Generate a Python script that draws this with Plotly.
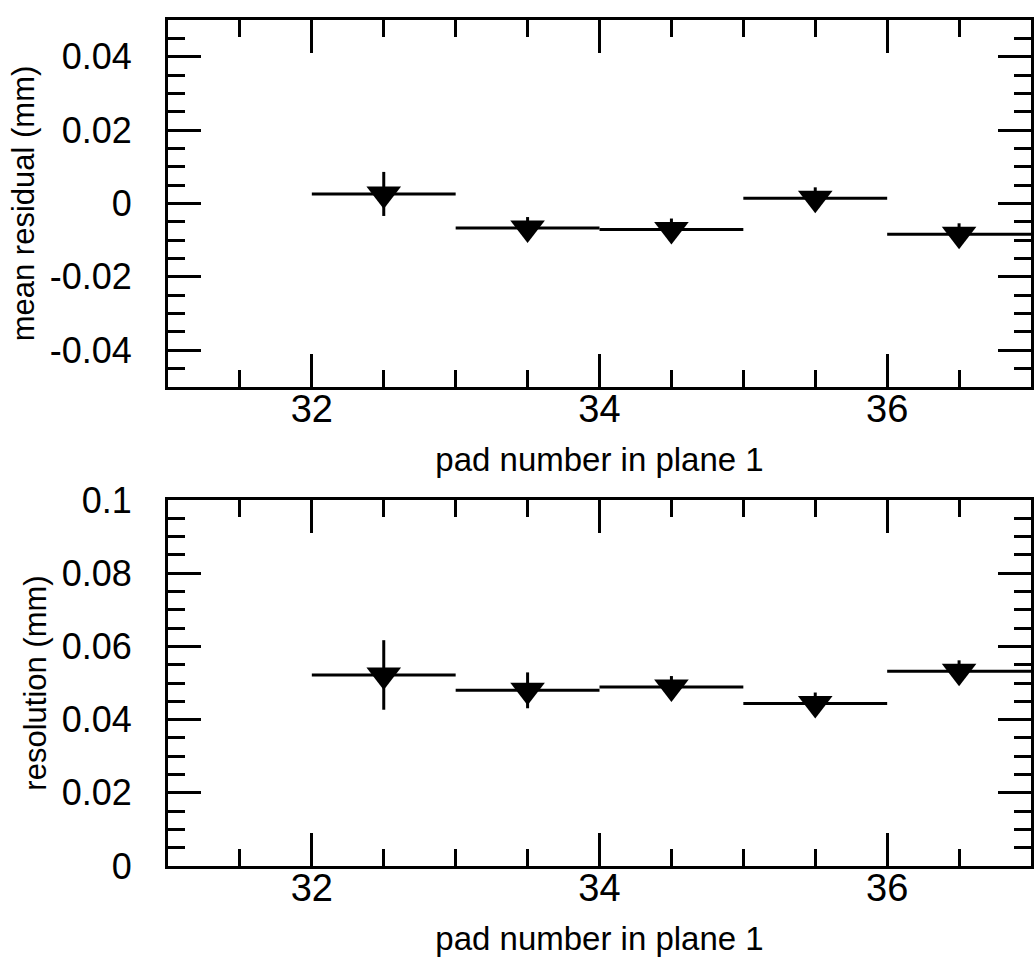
import plotly.graph_objects as go
from plotly.subplots import make_subplots

# ---- data ----
pads = [32.5, 33.5, 34.5, 35.5, 36.5]
pad_half_width = [0.5, 0.5, 0.5, 0.5, 0.5]
mean_residual = [0.0026, -0.0067, -0.0071, 0.0014, -0.0084]
mean_residual_err = [0.006, 0.003, 0.003, 0.003, 0.003]
resolution = [0.0522, 0.0480, 0.0489, 0.0444, 0.0532]
resolution_err = [0.0095, 0.0049, 0.003, 0.003, 0.003]

top_yticks = [-0.04, -0.02, 0, 0.02, 0.04]
top_ylabels = ["-0.04", "-0.02", "0", "0.02", "0.04"]
bot_yticks = [0, 0.02, 0.04, 0.06, 0.08, 0.1]
bot_ylabels = ["0", "0.02", "0.04", "0.06", "0.08", "0.1"]
xticks = [32, 34, 36]
xlabels = ["32", "34", "36"]

FONT = "Liberation Sans, Arial, Helvetica, sans-serif"
W, H = 1034, 967
L, R, T, B = 168, 0, 13, 101
plot_h = H - T - B
top_dom = [(866 - 383) / plot_h, 1.0]
bot_dom = [0.0, (866 - 497) / plot_h]

fig = make_subplots(rows=2, cols=1)

def add_series(y, yerr, row):
    fig.add_trace(
        go.Scatter(
            x=pads, y=y, mode="markers",
            marker=dict(symbol="triangle-down", size=30, color="black"),
            error_x=dict(type="data", array=pad_half_width, color="black",
                         thickness=3, width=0),
            error_y=dict(type="data", array=yerr, color="black",
                         thickness=3, width=0),
            showlegend=False, cliponaxis=False,
        ),
        row=row, col=1,
    )

add_series(mean_residual, mean_residual_err, 1)
add_series(resolution, resolution_err, 2)

xaxis_common = dict(
    range=[31, 37], tickmode="array", tickvals=xticks, ticktext=xlabels,
    ticks="inside", ticklen=33, tickwidth=3, tickcolor="black",
    minor=dict(tickmode="linear", tick0=31, dtick=0.5, ticks="inside",
               ticklen=17, tickwidth=3, tickcolor="black"),
    showline=True, linewidth=3, linecolor="black", mirror="allticks",
    showgrid=False, zeroline=False,
    tickfont=dict(family=FONT, size=38, color="black"),
    ticklabelstandoff=-14,
    title=dict(text="pad number in plane 1",
               font=dict(family=FONT, size=33, color="black"), standoff=20),
)
yaxis_common = dict(
    ticks="inside", ticklen=33, tickwidth=3, tickcolor="black",
    showline=True, linewidth=3, linecolor="black", mirror="allticks",
    showgrid=False, zeroline=False,
    tickfont=dict(family=FONT, size=36, color="black"),
    ticklabelstandoff=26,
)

fig.update_layout(
    width=W, height=H,
    margin=dict(l=L, r=R, t=T, b=B),
    plot_bgcolor="white", paper_bgcolor="white",
    xaxis=dict(domain=[0, 1], anchor="y", **xaxis_common),
    xaxis2=dict(domain=[0, 1], anchor="y2", **xaxis_common),
    yaxis=dict(domain=top_dom, anchor="x", range=[-0.05, 0.05],
               tickmode="array", tickvals=top_yticks, ticktext=top_ylabels,
               minor=dict(tickmode="linear", tick0=0, dtick=0.005, ticks="inside",
                          ticklen=17, tickwidth=3, tickcolor="black"),
               title=dict(text="mean residual (mm)",
                          font=dict(family=FONT, size=31, color="black"), standoff=6),
               **yaxis_common),
    yaxis2=dict(domain=bot_dom, anchor="x2", range=[0, 0.1],
                tickmode="array", tickvals=bot_yticks, ticktext=bot_ylabels,
                minor=dict(tickmode="linear", tick0=0, dtick=0.005, ticks="inside",
                           ticklen=17, tickwidth=3, tickcolor="black"),
                title=dict(text="resolution (mm)",
                           font=dict(family=FONT, size=31, color="black"), standoff=6),
                **yaxis_common),
)

fig.write_html("out.html")
